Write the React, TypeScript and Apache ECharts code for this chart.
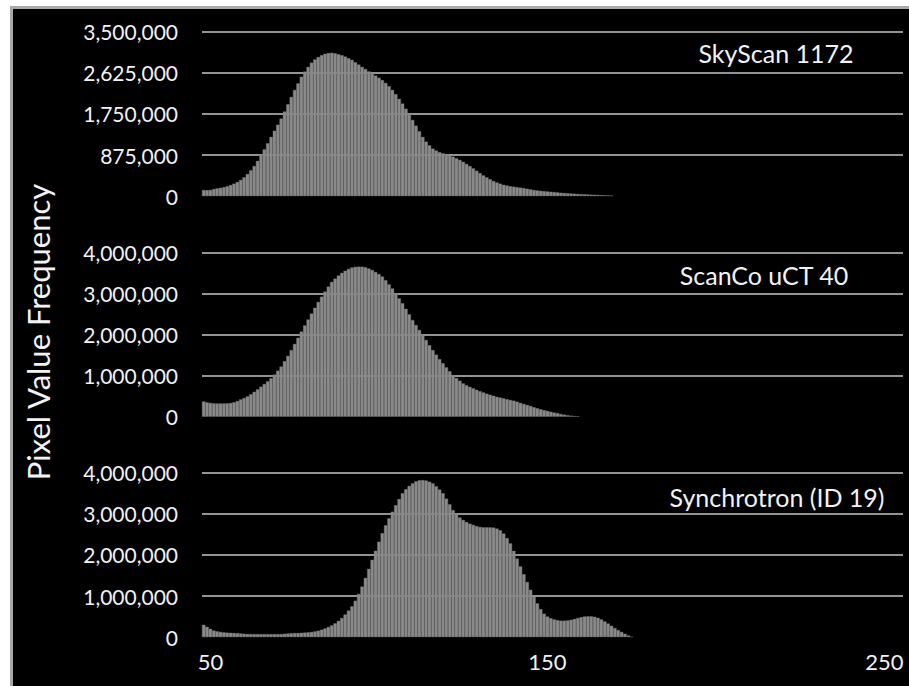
import React, { useEffect, useRef } from "react";
import * as echarts from "echarts";

// Pixel value categories 48..255 (one bar per pixel value)
const X_FIRST = 48;
const X_LAST = 255;
const X_TICKS = ["50", "150", "250"];

// Frequencies in thousands, starting at pixel value 48
const skyscan1172 = [
  128, 128, 130, 150, 165, 175, 190, 210, 235, 265, 300, 345, 400, 470, 550, 640, 750, 870, 995, 1125,
  1260, 1390, 1520, 1650, 1800, 1955, 2110, 2260, 2400, 2540, 2650, 2750, 2840, 2910, 2960, 3000, 3030, 3045, 3050, 3040,
  3020, 3000, 2970, 2935, 2900, 2850, 2800, 2750, 2705, 2655, 2610, 2565, 2520, 2470, 2410, 2340, 2260, 2170, 2070, 1970,
  1860, 1740, 1620, 1500, 1380, 1260, 1160, 1080, 1010, 970, 935, 910, 885, 860, 840, 805, 770, 730, 685, 640,
  590, 540, 490, 440, 400, 360, 320, 290, 265, 240, 225, 210, 200, 190, 180, 170, 157, 143, 130, 120,
  112, 105, 98, 91, 85, 78, 71, 65, 60, 55, 50, 46, 42, 38, 35, 31, 28, 25, 21, 18,
  14, 10,
];

const scancoUct40 = [
  370, 350, 335, 325, 322, 322, 322, 325, 333, 350, 380, 420, 455, 495, 545, 605, 665, 730, 795, 860,
  935, 1025, 1120, 1220, 1350, 1480, 1620, 1770, 1920, 2070, 2220, 2365, 2510, 2650, 2790, 2920, 3045, 3165, 3280, 3360,
  3435, 3500, 3550, 3595, 3630, 3645, 3650, 3650, 3635, 3605, 3570, 3520, 3470, 3410, 3320, 3220, 3120, 3000, 2880, 2760,
  2625, 2490, 2350, 2230, 2110, 1990, 1865, 1740, 1620, 1510, 1400, 1300, 1200, 1105, 1010, 940, 875, 810, 765, 725,
  690, 655, 620, 590, 560, 535, 510, 485, 465, 445, 425, 405, 390, 365, 335, 310, 285, 260, 230, 205,
  180, 160, 140, 120, 100, 85, 65, 50, 35, 25, 15, 8,
];

const synchrotronId19 = [
  300, 250, 200, 160, 140, 125, 115, 108, 104, 100, 95, 88, 80, 75, 73, 72, 72, 72, 72, 72,
  72, 72, 72, 74, 80, 88, 95, 98, 100, 105, 110, 116, 124, 138, 155, 180, 210, 245, 285, 335,
  395, 465, 550, 645, 750, 885, 1050, 1230, 1440, 1660, 1880, 2100, 2320, 2530, 2720, 2890, 3050, 3210, 3360, 3500,
  3600, 3680, 3740, 3790, 3815, 3820, 3810, 3780, 3740, 3670, 3590, 3500, 3370, 3230, 3090, 2990, 2910, 2850, 2800, 2760,
  2730, 2700, 2680, 2670, 2670, 2670, 2665, 2640, 2600, 2520, 2410, 2280, 2100, 1910, 1720, 1530, 1340, 1150, 980, 820,
  680, 570, 500, 460, 430, 410, 400, 400, 405, 420, 440, 465, 485, 500, 505, 505, 495, 470, 430, 380,
  330, 275, 220, 170, 125, 80, 40, 10,
];

const PANEL_TITLES = ["SkyScan 1172", "ScanCo uCT 40", "Synchrotron (ID 19)"];
const PANEL_MAX = [3500000, 4000000, 4000000];
const PANEL_INTERVAL = [875000, 1000000, 1000000];
const PANEL_VALUES = [skyscan1172, scancoUct40, synchrotronId19];
const Y_TITLE = "Pixel Value Frequency";

const FONT = "Lato, 'Open Sans', sans-serif";

function fmt(v: number) {
  return String(Math.round(v)).replace(/\B(?=(\d{3})+(?!\d))/g, ",");
}

export default function App() {
  const ref = useRef<HTMLDivElement>(null);

  useEffect(() => {
    if (!ref.current) return;
    const chart = echarts.init(ref.current, undefined, { renderer: "svg" });
    const categories: string[] = [];
    for (let v = X_FIRST; v <= X_LAST; v++) categories.push(String(v));

    const gridTops = [31.7, 252.3, 472.7];
    const gridH = 164.4;
    const titlePos = [
      { x: 776, y: 53 },
      { x: 764, y: 275 },
      { x: 777, y: 497 },
    ];

    const option: any = {
      animation: false,
      backgroundColor: "transparent",
      grid: gridTops.map((t) => ({ left: 202, right: 6, top: t, height: gridH })),
      xAxis: gridTops.map((_, i) => ({
        type: "category",
        gridIndex: i,
        data: categories,
        boundaryGap: true,
        axisLine: { show: false },
        axisTick: { show: false },
        splitLine: { show: false },
        axisLabel: {
          show: i === 2,
          interval: (_idx: number, val: string) => X_TICKS.includes(val),
          color: "#f2f2f2",
          fontSize: 22,
          fontFamily: FONT,
          margin: 13,
        },
      })),
      yAxis: gridTops.map((_, i) => ({
        type: "value",
        gridIndex: i,
        min: 0,
        max: PANEL_MAX[i],
        interval: PANEL_INTERVAL[i],
        axisLine: { show: false },
        axisTick: { show: false },
        axisLabel: {
          color: "#f2f2f2",
          fontSize: 21,
          fontFamily: FONT,
          margin: 24,
          formatter: (v: number) => fmt(v),
        },
        splitLine: {
          show: true,
          lineStyle: {
            color: ["rgba(0,0,0,0)", "#c4c4c4", "#c4c4c4", "#c4c4c4", "#c4c4c4"],
            width: 1.5,
          },
        },
      })),
      series: PANEL_VALUES.map((vals, i) => ({
        type: "bar",
        xAxisIndex: i,
        yAxisIndex: i,
        data: vals.map((v) => v * 1000),
        barCategoryGap: "0%",
        itemStyle: { color: "#8a8a8a", borderColor: "#7a7a7a", borderWidth: 0.4 },
        emphasis: { disabled: true },
      })),
      graphic: [
        ...PANEL_TITLES.map((t, i) => ({
          type: "text",
          x: titlePos[i].x,
          y: titlePos[i].y,
          style: {
            text: t,
            fill: "#f2f2f2",
            font: `25px ${FONT}`,
            textAlign: "center",
            textVerticalAlign: "middle",
          },
        })),
        {
          type: "text",
          x: 38,
          y: 332,
          rotation: Math.PI / 2,
          style: {
            text: Y_TITLE,
            fill: "#f2f2f2",
            font: `31px ${FONT}`,
            textAlign: "center",
            textVerticalAlign: "middle",
          },
        },
      ],
    };
    chart.setOption(option);
    return () => chart.dispose();
  }, []);

  return (
    <div style={{ position: "absolute", left: 0, top: 0, width: 909, height: 686, background: "#fff", overflow: "hidden" }}>
      <div
        style={{
          position: "absolute",
          left: 10,
          top: 6,
          right: 0,
          bottom: 0,
          background: "#000",
          borderLeft: "3px solid #a8a8a8",
          borderTop: "3px solid #a8a8a8",
        }}
      />
      <div ref={ref} style={{ position: "absolute", left: 0, top: 0, width: 909, height: 686 }} />
    </div>
  );
}
